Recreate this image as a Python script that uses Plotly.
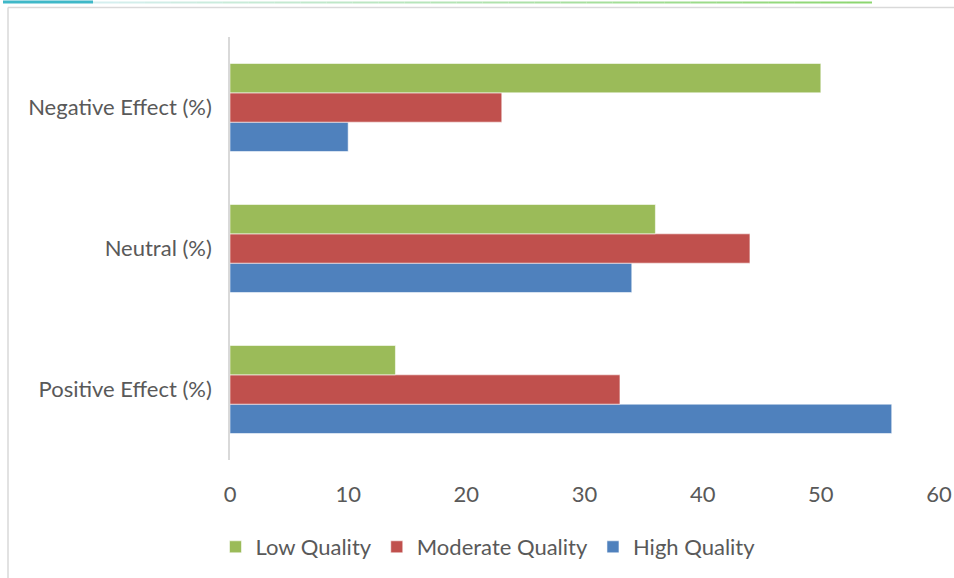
import plotly.graph_objects as go

# Data
categories = ["Positive Effect (%)", "Neutral (%)", "Negative Effect (%)"]
series_names = ["High Quality", "Moderate Quality", "Low Quality"]
high_quality = [56, 34, 10]
moderate_quality = [33, 44, 23]
low_quality = [14, 36, 50]
x_ticks = [0, 10, 20, 30, 40, 50, 60]

colors = {"High Quality": "#4F81BD", "Moderate Quality": "#C0504D", "Low Quality": "#9BBB59"}
values = {"High Quality": high_quality, "Moderate Quality": moderate_quality, "Low Quality": low_quality}

W, H = 954, 578
L, R, T, B = 230, 15, 37, 118
pw, ph = W - L - R, H - T - B


def px(x):
    return (x - L) / pw


def py(y):
    return (H - B - y) / ph


fig = go.Figure()
for name in series_names:
    fig.add_trace(go.Bar(
        y=categories, x=values[name], name=name, orientation="h",
        marker=dict(color=colors[name], line=dict(color="rgba(255,255,255,0.55)", width=1)),
    ))

shapes = []
# outer frame (left and top edges)
shapes.append(dict(type="line", xref="paper", yref="paper", x0=px(8), x1=px(960), y0=py(7.5), y1=py(7.5),
                   line=dict(color="#d9d9d9", width=1.5)))
shapes.append(dict(type="line", xref="paper", yref="paper", x0=px(8), x1=px(8), y0=py(7.5), y1=py(580),
                   line=dict(color="#d9d9d9", width=1.5)))
# header accent
shapes.append(dict(type="line", xref="paper", yref="paper", x0=px(3), x1=px(93), y0=py(2), y1=py(2),
                   line=dict(color="#3fb8c8", width=3)))
c0 = (215, 240, 242)
c1 = (140, 214, 110)
n = 30
x_start, x_end = 93, 872
for i in range(n):
    t = (i + 0.5) / n
    c = tuple(int(c0[k] + (c1[k] - c0[k]) * t) for k in range(3))
    xa = x_start + (x_end - x_start) * i / n
    xb = x_start + (x_end - x_start) * (i + 1) / n
    shapes.append(dict(type="line", xref="paper", yref="paper", x0=px(xa), x1=px(xb), y0=py(2.5), y1=py(2.5),
                       line=dict(color="rgb(%d,%d,%d)" % c, width=2)))

fig.update_layout(
    width=W, height=H,
    margin=dict(l=L, r=R, t=T, b=B, autoexpand=False),
    paper_bgcolor="white", plot_bgcolor="white",
    barmode="group", bargap=0.376, bargroupgap=0,
    font=dict(family="Lato, 'Open Sans', sans-serif", size=22, color="#595959"),
    xaxis=dict(range=[0, 60], tickvals=x_ticks, showgrid=False, zeroline=False, showline=False,
               ticks="", ticklabelstandoff=19, fixedrange=True, automargin=False),
    yaxis=dict(categoryorder="array", categoryarray=categories, showgrid=False, zeroline=False,
               showline=True, linecolor="#d9d9d9", linewidth=1.5, ticks="", ticklabelstandoff=12,
               automargin=False),
    legend=dict(orientation="h", traceorder="reversed", x=px(488), xanchor="center",
                y=py(547), yanchor="middle", font=dict(size=22, color="#595959"),
                itemwidth=30, tracegroupgap=0),
    shapes=shapes,
    showlegend=True,
)

fig.write_html("out.html")
